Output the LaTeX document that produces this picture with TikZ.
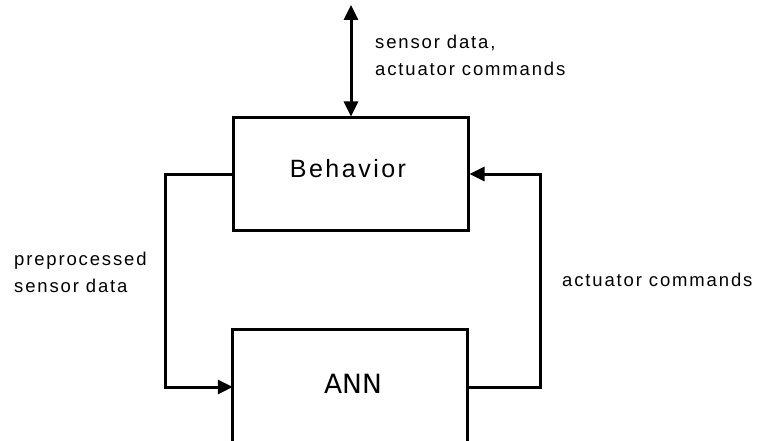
\documentclass[tikz,border=0pt]{standalone}
\usepackage{fontspec}
\setmainfont{Liberation Sans}
\newfontfamily\labelfont[LetterSpace=10]{Liberation Sans}
\newfontfamily\boxfont[LetterSpace=10]{Liberation Sans}
\newfontfamily\annfont{DejaVu Sans}
\usetikzlibrary{arrows.meta}
\tikzset{
  wire/.style={line width=3pt, line join=miter},
  arr/.style={wire, -{Triangle[length=15pt,width=14pt]}},
  darr/.style={wire, {Triangle[length=15pt,width=14pt]}-{Triangle[length=15pt,width=14pt]}},
  blockbox/.style={draw, line width=3pt, minimum width=235pt, minimum height=112pt, inner sep=0pt},
  lbl/.style={font=\labelfont\fontsize{18.5}{26.5}\selectfont, inner sep=0pt, align=left, anchor=base west}
}
\begin{document}
\begin{tikzpicture}[x=1pt,y=-1pt]
  \useasboundingbox (0,0) rectangle (760,441);
  \fill[white] (0,0) rectangle (760,441);

  % upper block
  \node[blockbox] (beh) at (350.5,174) {};
  \node[font=\boxfont\fontsize{25}{28}\selectfont, anchor=base, inner sep=0pt] (behtxt) at (348,177.5) {Behavior};

  % lower block, open at the bottom
  \node[minimum width=234pt, minimum height=114pt, inner sep=0pt] (ann) at (350,387) {};
  \draw[wire] (ann.south west) -- (ann.north west) -- (ann.north east) -- (ann.south east);
  \node[font=\annfont\fontsize{26.5}{28}\selectfont, anchor=base, inner sep=0pt] (anntxt) at (353,393) {ANN};

  % external link
  \coordinate (ext) at (351,5);
  \draw[darr] (ext) -- (ext |- beh.north);

  % feedback loop
  \draw[arr] (beh.west) -- ++(-66,0) |- (ann.west);
  \draw[arr] (ann.east) -- ++(73,0) |- (beh.east);

  % labels (anchored at the baseline of their last line)
  \node[lbl] (l1) at (375,75.5) {sensor data,\\actuator commands};
  \node[lbl] (l2) at (14,292) {preprocessed\\sensor data};
  \node[lbl] (l3) at (562,286) {actuator commands};
\end{tikzpicture}
\end{document}
